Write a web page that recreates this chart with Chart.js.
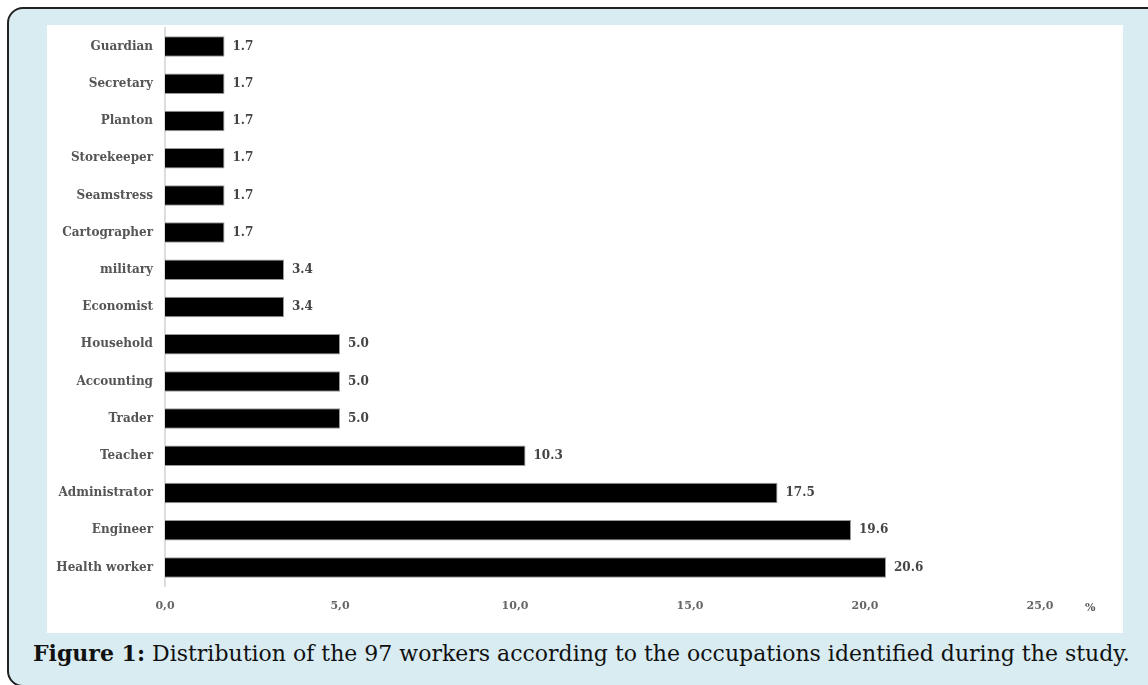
<!DOCTYPE html>
<html>
<head>
<meta charset="utf-8">
<script src="https://cdn.jsdelivr.net/npm/chart.js@4"></script>
<style>
  body { margin: 0; width: 1148px; height: 685px; background: #fff; overflow: hidden; position: relative; }
  #frame { position: absolute; left: 7px; top: 7px; width: 1160px; height: 676px; background: #d8ecf2;
           border: 2px solid #222; border-radius: 16px; }
  #inner { position: absolute; left: 47px; top: 25px; width: 1076px; height: 608px; background: #fff; }
  #caption { position: absolute; left: 33px; top: 640px; font-family: "DejaVu Serif", serif; font-size: 22px; color: #111; white-space: nowrap; }
</style>
</head>
<body>
<div id="frame"></div>
<div id="inner"><canvas id="myChart" width="1076" height="608"></canvas></div>
<div id="caption"><b>Figure 1:</b> Distribution of the 97 workers according to the occupations identified during the study.</div>
<script>
// occupations, top to bottom
var occupations = ["Guardian", "Secretary", "Planton", "Storekeeper", "Seamstress", "Cartographer",
  "military", "Economist", "Household", "Accounting", "Trader", "Teacher", "Administrator",
  "Engineer", "Health worker"];
var percents = [1.7, 1.7, 1.7, 1.7, 1.7, 1.7, 3.4, 3.4, 5.0, 5.0, 5.0, 10.3, 17.5, 19.6, 20.6];
var xTicks = [0, 5, 10, 15, 20, 25];

var serif = "'DejaVu Serif', serif";

// draws the value next to each bar and the % unit
var valueLabels = {
  id: 'valueLabels',
  afterDatasetsDraw: function(chart) {
    var ctx = chart.ctx;
    var meta = chart.getDatasetMeta(0);
    ctx.save();
    ctx.font = "bold 12px " + serif;
    ctx.fillStyle = "#444";
    ctx.textBaseline = "middle";
    meta.data.forEach(function(bar, i) {
      ctx.fillText(percents[i].toFixed(1), bar.x + 8, bar.y);
    });
    ctx.font = "bold 11px " + serif;
    ctx.fillStyle = "#555";
    ctx.fillText("%", chart.chartArea.right + 45, chart.chartArea.bottom + 22);
    ctx.restore();
  }
};

new Chart("myChart", {
  type: "bar",
  data: {
    labels: occupations,
    datasets: [{
      data: percents,
      backgroundColor: "#000",
      borderColor: "#999",
      borderWidth: 1,
      barPercentage: 0.55,
      categoryPercentage: 1
    }]
  },
  plugins: [valueLabels],
  options: {
    indexAxis: "y",
    responsive: false,
    animation: false,
    layout: { padding: { top: 3, right: 83, left: 0, bottom: 0 } },
    plugins: { legend: { display: false }, tooltip: { enabled: false } },
    scales: {
      x: {
        min: 0, max: 25,
        afterBuildTicks: function(scale) {
          scale.ticks = xTicks.map(function(v) { return { value: v }; });
        },
        afterFit: function(scale) { scale.height = 47; },
        grid: { display: false, drawTicks: false },
        border: { display: false },
        ticks: {
          padding: 14,
          color: "#666",
          font: { family: serif, size: 11, weight: "bold" },
          callback: function(v) { return v.toFixed(1).replace(".", ","); }
        }
      },
      y: {
        afterFit: function(scale) {
          scale.width = 118;
          scale.paddingTop = 0;
          scale.paddingBottom = 0;
        },
        grid: { display: false, drawTicks: false },
        border: { display: true, color: "#ddd", width: 2 },
        ticks: {
          padding: 12,
          color: "#555",
          font: { family: serif, size: 12, weight: "bold" }
        }
      }
    }
  }
});
</script>
</body>
</html>
